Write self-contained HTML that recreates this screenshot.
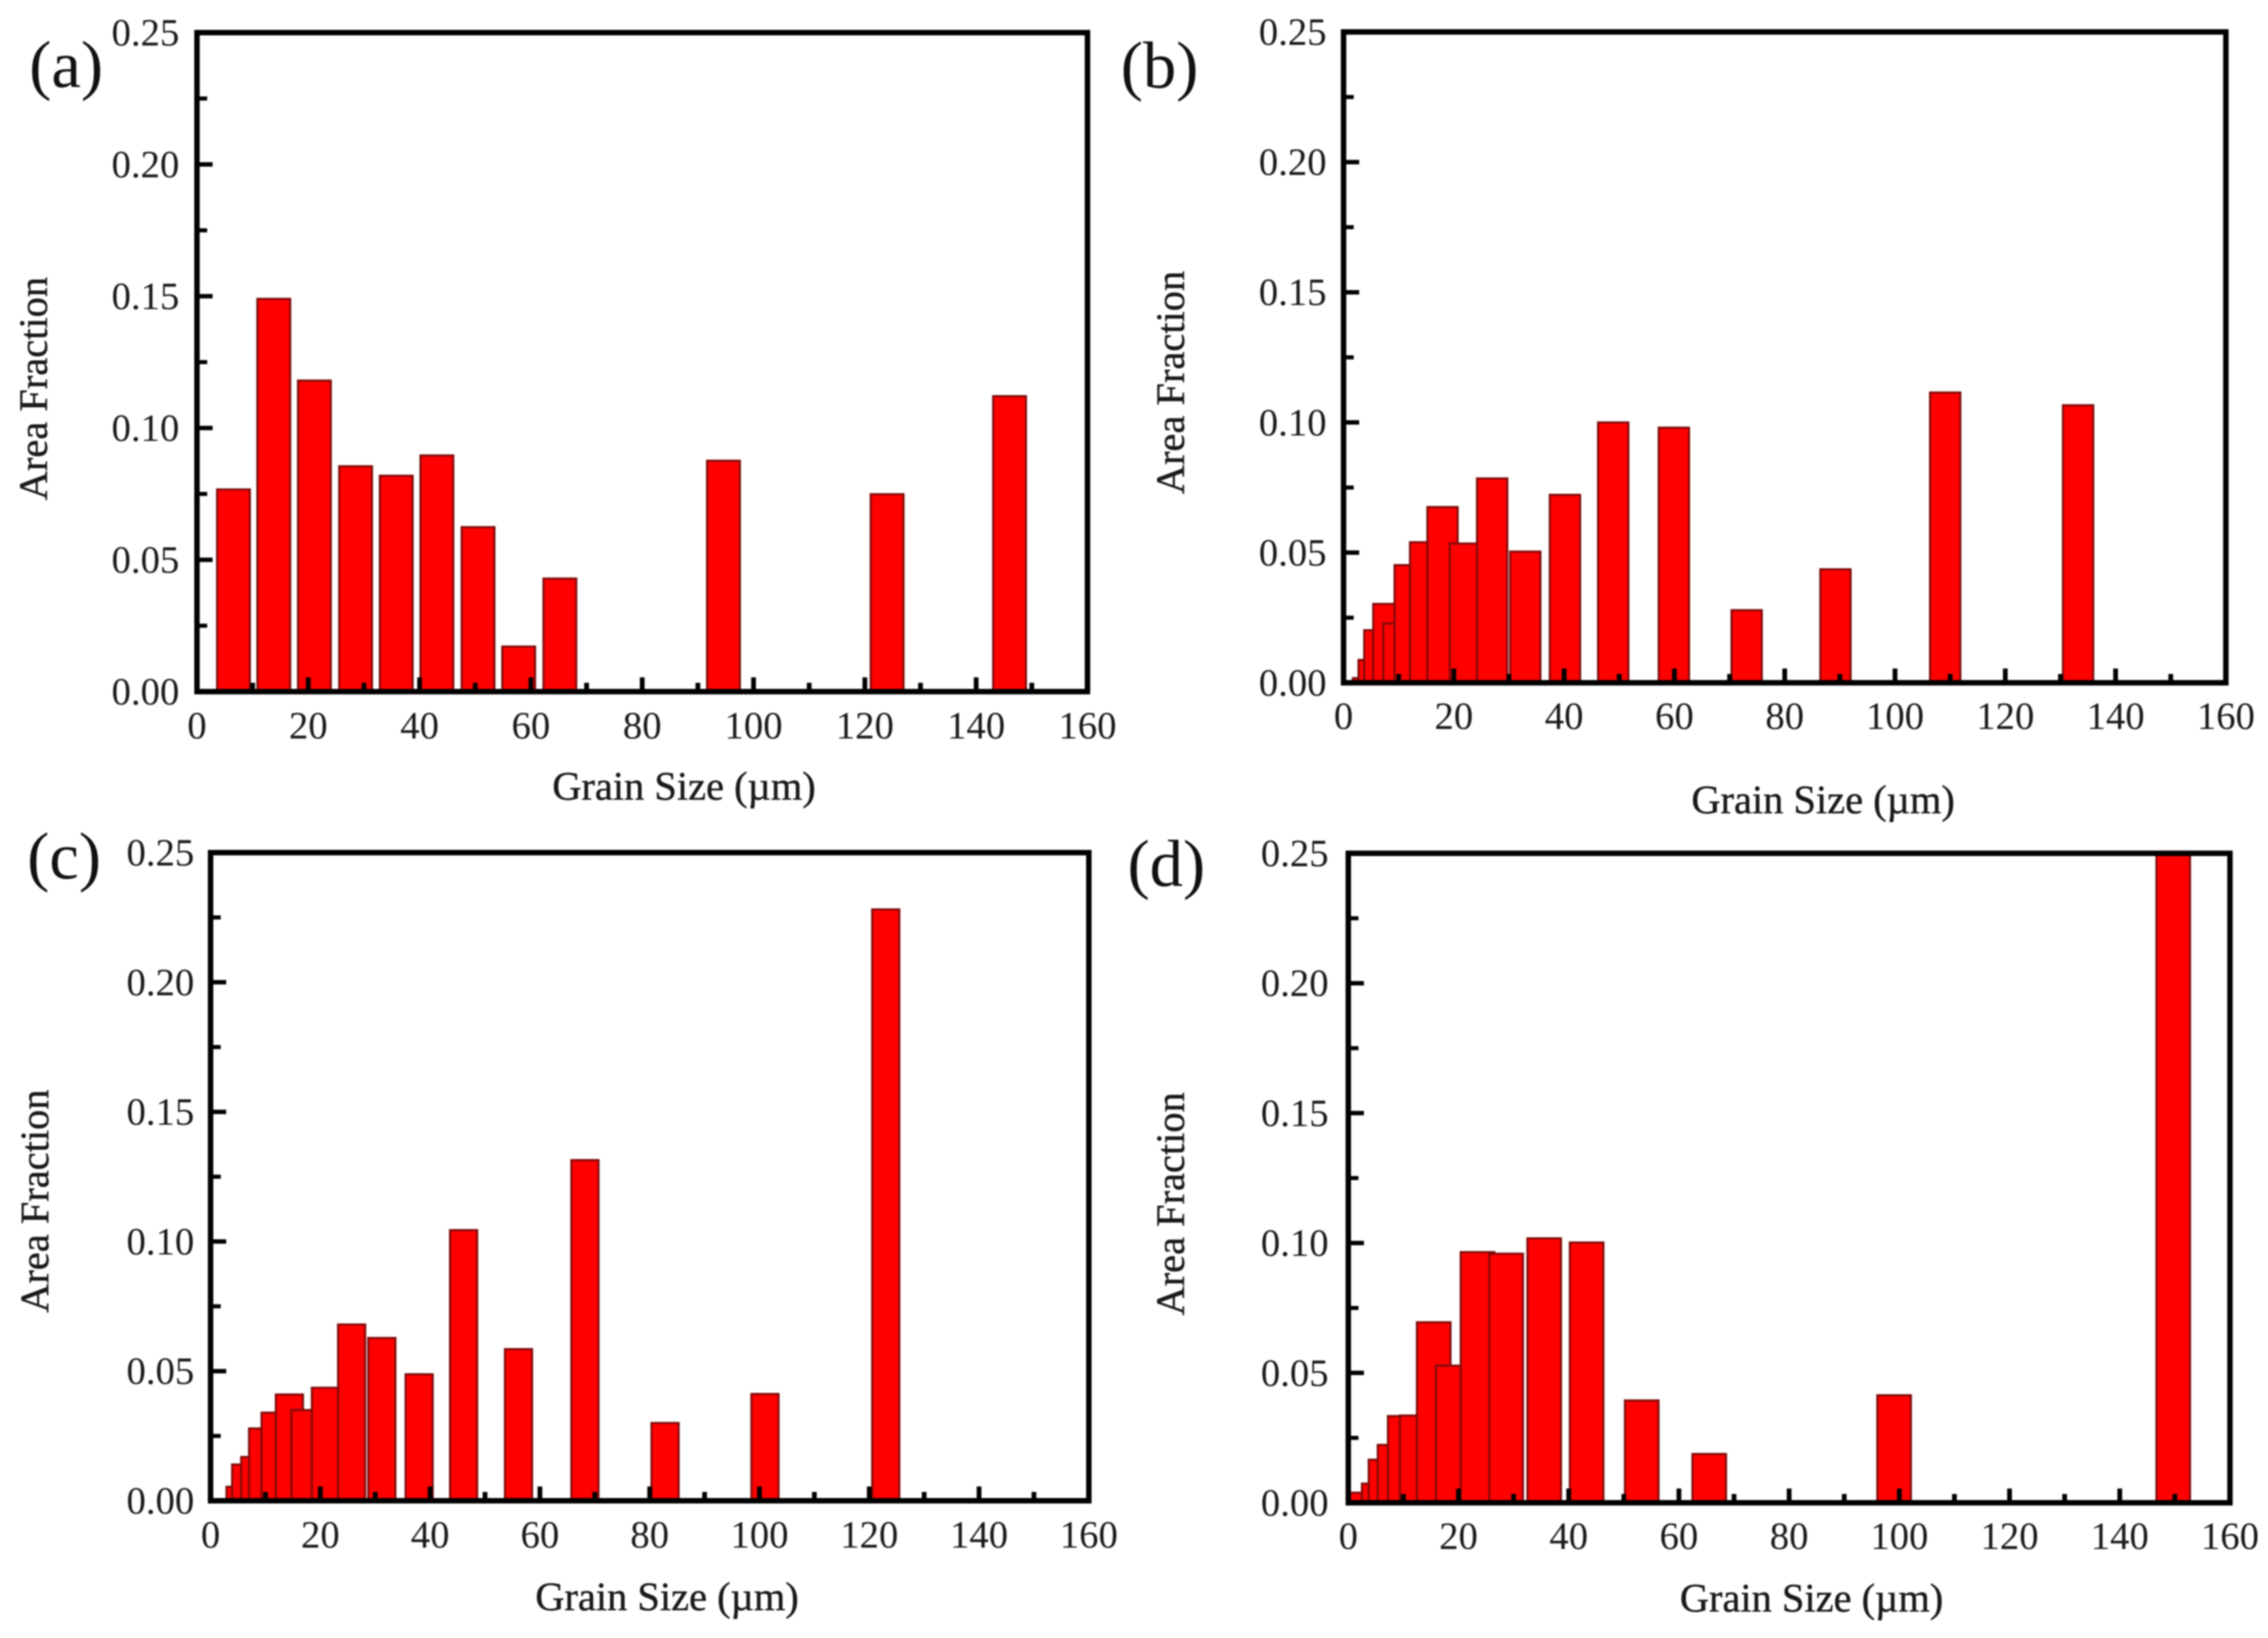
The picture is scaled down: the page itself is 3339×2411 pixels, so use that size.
<!DOCTYPE html>
<html lang="en">
<head>
<meta charset="utf-8">
<title>Grain size area fraction histograms</title>
<style>
  html, body { margin: 0; padding: 0; background: #fff; }
  body { width: 3339px; height: 2411px; overflow: hidden; }
  svg { display: block; filter: blur(1.1px); }
  text { font-family: "Liberation Serif", serif; fill: #1a1a1a; text-rendering: geometricPrecision; }
  .tick-label { font-size: 57px; }
  .axis-title { font-size: 59.5px; stroke: #1a1a1a; stroke-width: 0.6px; }
  .panel-letter { font-size: 98px; fill: #111; }
</style>
</head>
<body>
<svg id="figure" xmlns="http://www.w3.org/2000/svg" width="3339" height="2411" viewBox="0 0 3339 2411">
  <rect x="0" y="0" width="3339" height="2411" fill="#fff"/>

  <g id="panel-a">
    <text class="panel-letter" x="43" y="128">(a)</text>
    <text class="axis-title" x="1007" y="1177" text-anchor="middle">Grain Size (µm)</text>
    <text class="axis-title" transform="translate(69 572) rotate(-90)" text-anchor="middle">Area Fraction</text>
  </g>
  <g id="panel-b">
    <text class="panel-letter" x="1650" y="129">(b)</text>
    <text class="axis-title" x="2684" y="1197" text-anchor="middle">Grain Size (µm)</text>
    <text class="axis-title" transform="translate(1743 563) rotate(-90)" text-anchor="middle">Area Fraction</text>
  </g>
  <g id="panel-c">
    <text class="panel-letter" x="40" y="1293">(c)</text>
    <text class="axis-title" x="982" y="2370" text-anchor="middle">Grain Size (µm)</text>
    <text class="axis-title" transform="translate(71 1768) rotate(-90)" text-anchor="middle">Area Fraction</text>
  </g>
  <g id="panel-d">
    <text class="panel-letter" x="1660" y="1304">(d)</text>
    <text class="axis-title" x="2667" y="2372" text-anchor="middle">Grain Size (µm)</text>
    <text class="axis-title" transform="translate(1743 1772) rotate(-90)" text-anchor="middle">Area Fraction</text>
  </g>
</svg>

<script>
// Tick values and labels
const xTickLabels = ["0", "20", "40", "60", "80", "100", "120", "140", "160"];
const xMinorTicks = [10, 30, 50, 70, 90, 110, 130, 150];
const yTickLabels = ["0.00", "0.05", "0.10", "0.15", "0.20", "0.25"];
const yMinorTicks = [0.025, 0.075, 0.125, 0.175, 0.225];
const xDomain = [0, 160];
const yDomain = [0, 0.25];

// Panel (a): grain size bin centre (um), area fraction, bar width (um)
const grainSizeA = [6.56, 13.8, 21.1, 28.5, 35.8, 43.1, 50.5, 57.8, 65.2, 94.6, 124, 146];
const areaFractionA = [0.0767, 0.149, 0.118, 0.0855, 0.0819, 0.0896, 0.0624, 0.0171, 0.0429, 0.0876, 0.0749, 0.1121];
const barWidthA = 5.9;

// Panel (b)
const grainSizeB = [4.44, 5.46, 6.49, 8.13, 9.95, 12.0, 14.8, 17.95, 22.0, 26.95, 32.95, 40.15, 48.9, 59.9, 73.1, 89.2, 109.1, 133.2];
const areaFractionB = [0.0018, 0.0088, 0.0202, 0.0303, 0.0228, 0.0452, 0.054, 0.0675, 0.0535, 0.0785, 0.0504, 0.0722, 0.1, 0.098, 0.0279, 0.0436, 0.1115, 0.1066];
const barWidthB = 5.5;

// Panel (c)
const grainSizeC = [5.37, 6.4, 8.05, 9.48, 11.76, 14.36, 17.21, 20.92, 25.7, 31.2, 38.0, 46.1, 56.1, 68.2, 82.8, 101, 123];
const areaFractionC = [0.0054, 0.014, 0.0169, 0.0279, 0.034, 0.041, 0.035, 0.0436, 0.068, 0.0628, 0.0488, 0.1044, 0.0585, 0.1314, 0.03, 0.0412, 0.2281];
const barWidthC = 4.95;

// Panel (d)
const grainSizeD = [-0.58, 5.52, 6.75, 8.39, 10.24, 12.42, 15.5, 18.95, 23.45, 28.65, 35.55, 43.25, 53.25, 65.5, 99.05, 149.7];
const areaFractionD = [0.0039, 0.0074, 0.0166, 0.0223, 0.0334, 0.0336, 0.0695, 0.0528, 0.0965, 0.0959, 0.1018, 0.1002, 0.0394, 0.0188, 0.0414, 0.25];
const barWidthD = 6.1;

const SVG_NS = "http://www.w3.org/2000/svg";

function make(tag, attrs, parent) {
  const el = document.createElementNS(SVG_NS, tag);
  for (const key in attrs) el.setAttribute(key, attrs[key]);
  parent.appendChild(el);
  return el;
}

function drawPanel(panelId, sizes, fractions, barWidth, box, labelGapY, labelDropX) {
  const group = document.getElementById(panelId);
  const xScale = v => box.left + (v - xDomain[0]) / (xDomain[1] - xDomain[0]) * (box.right - box.left);
  const yScale = v => box.bottom - (v - yDomain[0]) / (yDomain[1] - yDomain[0]) * (box.bottom - box.top);

  const barsGroup = make("g", {}, group);
  
  
  sizes.forEach((size, i) => {
    const x0 = Math.max(xScale(size - barWidth / 2), box.left);
    const x1 = xScale(size + barWidth / 2);
    const yTop = yScale(fractions[i]);
    const bar = make("rect", {
      x: x0, y: yTop, width: x1 - x0, height: box.bottom - yTop,
      fill: "#ff0000", stroke: "#7d0a0a", "stroke-width": 3
    }, barsGroup);
    
    
  });

  const frame = make("rect", {
    x: box.left, y: box.top, width: box.right - box.left, height: box.bottom - box.top,
    fill: "none", stroke: "#000", "stroke-width": 8
  }, group);
  
  

  xTickLabels.forEach(label => {
    const x = xScale(Number(label));
    if (Number(label) > xDomain[0] && Number(label) < xDomain[1]) {
      const tick = make("line", { x1: x, x2: x, y1: box.bottom, y2: box.bottom - 21, stroke: "#000", "stroke-width": 7 }, group);
      
      
    }
    const text = make("text", { x: x, y: box.bottom + labelDropX, "text-anchor": "middle", class: "tick-label" }, group);
    text.textContent = label;
    
    
  });

  xMinorTicks.forEach(value => {
    const x = xScale(value);
    const tick = make("line", { x1: x, x2: x, y1: box.bottom, y2: box.bottom - 13, stroke: "#000", "stroke-width": 7 }, group);
    
    
  });

  yTickLabels.forEach(label => {
    const y = yScale(Number(label));
    if (Number(label) > yDomain[0] && Number(label) < yDomain[1]) {
      const tick = make("line", { x1: box.left, x2: box.left + 23, y1: y, y2: y, stroke: "#000", "stroke-width": 6.5 }, group);
      
      
    }
    const text = make("text", { x: box.left - labelGapY, y: y + 19, "text-anchor": "end", class: "tick-label" }, group);
    text.textContent = label;
    
    
  });

  yMinorTicks.forEach(value => {
    const y = yScale(value);
    const tick = make("line", { x1: box.left, x2: box.left + 15, y1: y, y2: y, stroke: "#000", "stroke-width": 6 }, group);
    
    
  });
}

drawPanel("panel-a", grainSizeA, areaFractionA, barWidthA, { left: 290, right: 1601, top: 48, bottom: 1018 }, 26, 69);
drawPanel("panel-b", grainSizeB, areaFractionB, barWidthB, { left: 1978, right: 3277, top: 47, bottom: 1005 }, 25, 68);
drawPanel("panel-c", grainSizeC, areaFractionC, barWidthC, { left: 310, right: 1603, top: 1255, bottom: 2209 }, 24, 69);
drawPanel("panel-d", grainSizeD, areaFractionD, barWidthD, { left: 1985, right: 3283, top: 1256, bottom: 2212 }, 29, 68);
</script>
</body>
</html>
